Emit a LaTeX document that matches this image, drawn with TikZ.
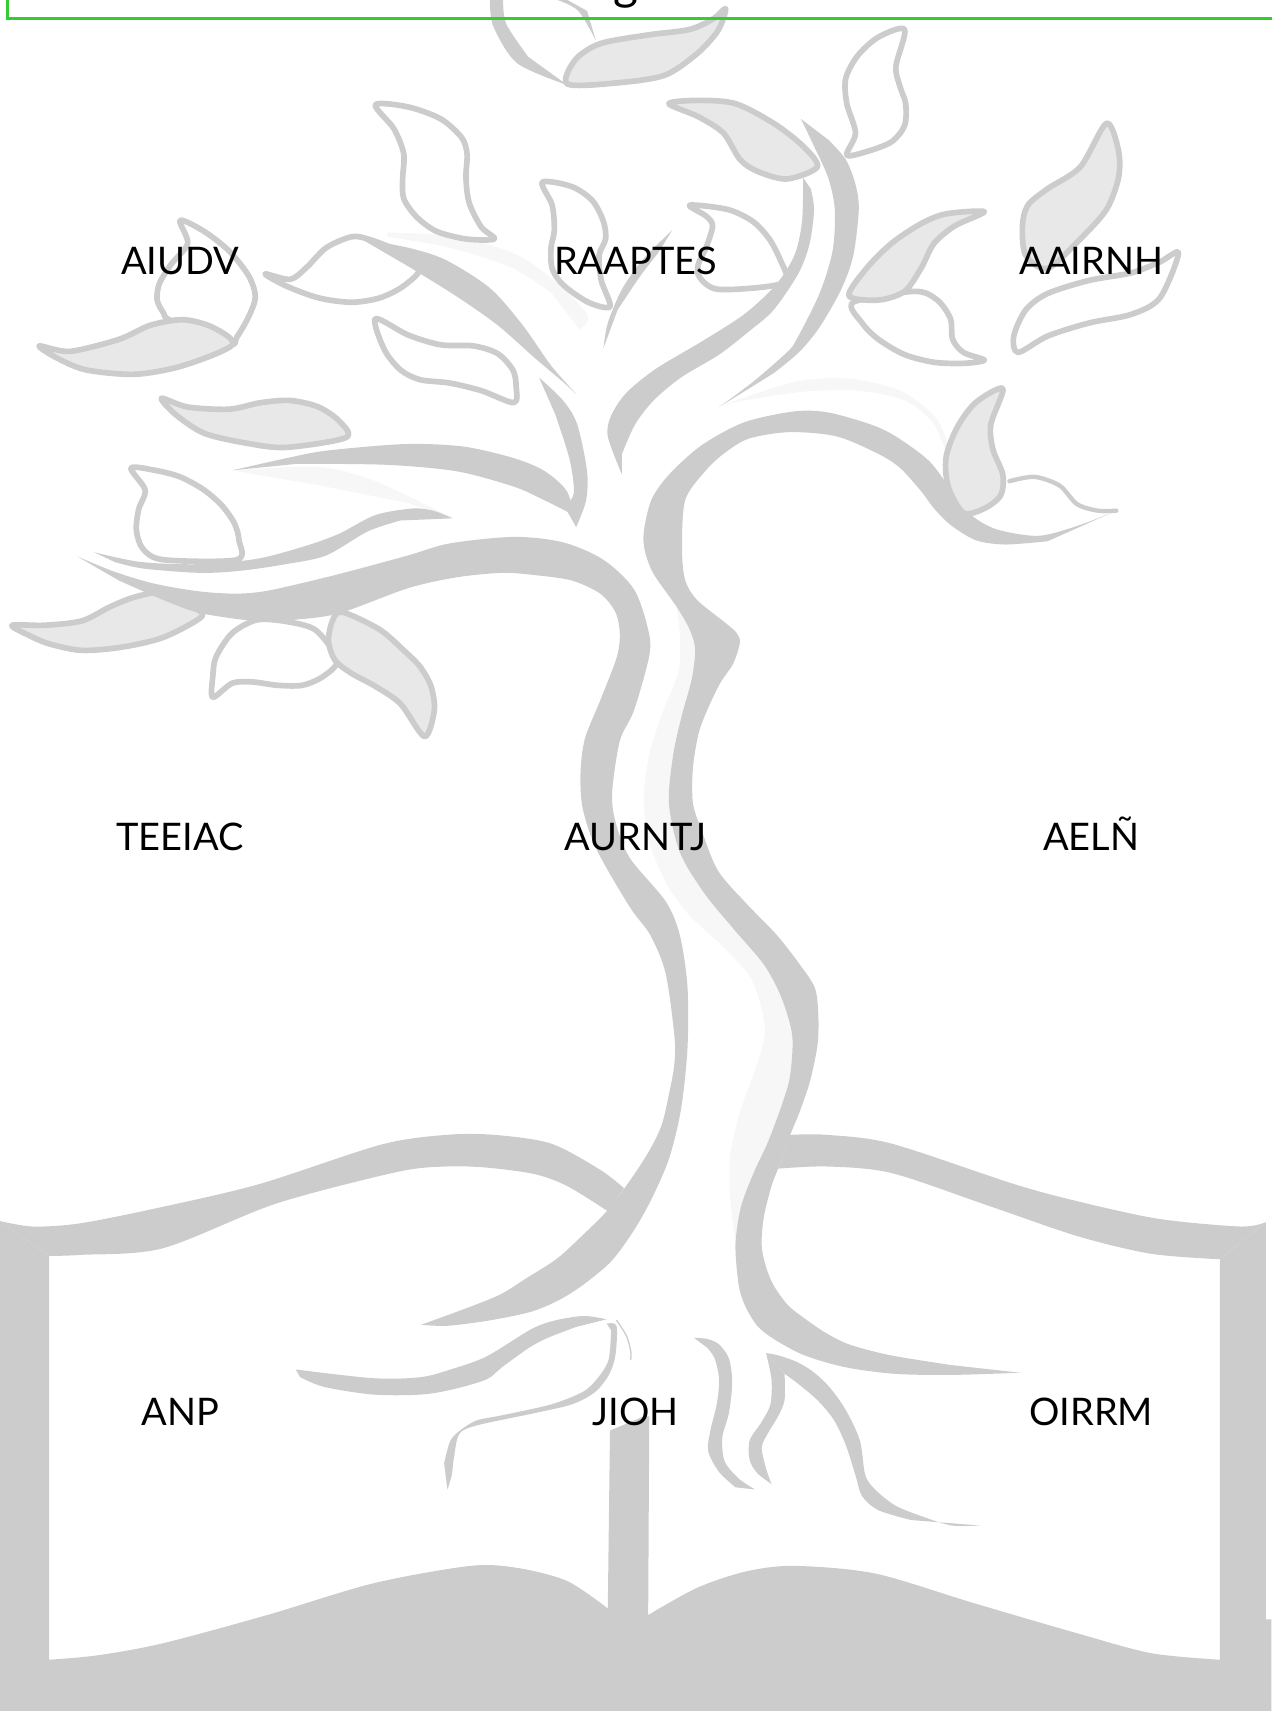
\documentclass[tikz,border=0pt]{standalone}
\usepackage{fontspec}
\setmainfont{Lato}
\usetikzlibrary{positioning}
\definecolor{treegray}{HTML}{CCCCCC}
\definecolor{leafgray}{HTML}{E8E8E8}
\definecolor{treeshine}{HTML}{F7F7F7}
\definecolor{framegreen}{HTML}{33CC33}
\tikzset{
  bark/.style = {fill=treegray},
  shine/.style = {fill=treeshine},
  leafline/.style = {draw=treegray, line width=2.6pt, line join=round, fill=white},
  leaflight/.style = {leafline, fill=leafgray},
  twig/.style = {draw=treegray, line width=2pt, line cap=round},
  word/.style = {font=\fontsize{17.4}{20}\selectfont, inner sep=0pt, text height=12.5pt, text depth=0pt},
  titleword/.style = {font=\fontsize{22}{26}\selectfont, inner sep=0pt, anchor=base},
  frame/.style = {draw=framegreen, line width=1.4pt},
}

\begin{document}
\begin{tikzpicture}[x=0.5pt,y=-0.5pt,node distance=263.75pt and 208.75pt,on grid]
      \useasboundingbox (0,0) rectangle (1165,1568);
      % highlights
      \fill[shine] plot[smooth] coordinates {(620,556) (623,581) (622,614) (608,651) (596,687) (590,728) (594,769) (611,810) (632,839) (666,871) (690,900) (701,945) (690,986) (678,1019) (669,1060) (669,1096) (673,1131) (674,1141)} -- plot[smooth] coordinates {(679,1106) (691,1074) (704,1046) (717,1011) (724,986) (726,949) (716,914) (700,884) (672,851) (645,818) (623,781) (613,736) (617,691) (625,655) (634,622) (637,595) (632,577)} -- cycle;
      \fill[shine] plot[smooth] coordinates {(663,371) (728,350) (778,347) (825,358) (856,381) (869,408) (877,450)} -- plot[smooth] coordinates {(871,427) (856,389) (829,367) (786,358) (736,359) (682,367)} -- cycle;
      \fill[shine] plot[smooth] coordinates {(355,213) (419,217) (475,234) (516,264) (539,290) (531,302)} -- plot[smooth] coordinates {(505,268) (468,245) (412,227) (355,217)} -- cycle;
      \fill[shine] plot[smooth] coordinates {(213,431) (292,428) (344,441) (415,475)} -- plot[smooth] coordinates {(374,461) (299,446)} -- cycle;

      % leaves
      \filldraw[leaflight] plot[smooth cycle] coordinates {(520,77) (527,55) (550,40) (594,32) (632,27) (654,17) (665,8) (658,28) (639,49) (609,69) (565,76)};
      \filldraw[leafline] plot[smooth cycle] coordinates {(344,96) (374,98) (404,109) (423,126) (428,141) (427,163) (430,186) (441,208) (453,219) (427,219) (400,212) (382,199) (370,182) (369,163) (370,141) (361,118)};
      \filldraw[leafline] plot[smooth cycle] coordinates {(497,167) (524,171) (543,184) (553,203) (555,219) (549,234) (551,257) (559,281) (539,277) (516,261) (506,246) (505,227) (508,211) (506,188)};
      \filldraw[leafline] plot[smooth cycle] coordinates {(632,188) (667,192) (690,203) (705,219) (715,238) (721,257) (700,263) (657,265) (641,254) (640,242) (647,227) (653,207) (647,198)};
      \filldraw[leaflight] plot[smooth cycle] coordinates {(613,95) (640,92) (674,95) (709,113) (736,134) (749,153) (721,164) (694,157) (678,146) (663,122) (640,107)};
      \filldraw[leafline] plot[smooth cycle] coordinates {(829,27) (821,61) (825,80) (830,95) (829,115) (817,130) (794,139) (776,142) (784,122) (776,95) (775,72) (786,51) (805,34)};
      \filldraw[leafline] plot[smooth cycle] coordinates {(782,277) (790,296) (805,311) (829,325) (856,332) (883,333) (902,330) (883,323) (873,311) (871,292) (859,275) (838,267)};
      \filldraw[leaflight] plot[smooth cycle] coordinates {(778,271) (794,246) (817,223) (844,205) (867,196) (902,194) (875,207) (856,223) (844,246) (829,267) (805,275)};
      \filldraw[leaflight] plot[smooth cycle] coordinates {(1014,113) (1025,138) (1025,163) (1014,192) (990,219) (960,246) (940,234) (937,207) (942,188) (960,173) (990,153)};
      \filldraw[leafline] plot[smooth cycle] coordinates {(929,308) (940,284) (960,269) (998,257) (1037,250) (1063,240) (1080,232) (1063,273) (1037,288) (998,296) (960,308) (933,323)};
      \filldraw[leafline] plot[smooth cycle] coordinates {(165,202) (187,212) (210,230) (228,253) (234,272) (228,290) (217,309) (210,315) (157,294) (150,287) (144,275) (146,260) (157,242) (172,223)};
      \filldraw[leaflight] plot[smooth cycle] coordinates {(36,317) (64,322) (109,311) (138,298) (168,293) (195,300) (213,316) (168,335) (124,343) (79,339) (52,328)};
      \filldraw[leaflight] plot[smooth cycle] coordinates {(148,365) (172,373) (210,375) (239,369) (266,367) (292,373) (311,386) (317,401) (262,410) (225,406) (187,397) (161,380)};
      \filldraw[leafline] plot[smooth cycle] coordinates {(344,292) (374,307) (404,316) (434,317) (456,324) (470,339) (473,354) (471,369) (441,358) (412,351) (385,348) (367,339) (352,320)};
      \filldraw[leafline] plot[smooth cycle] coordinates {(243,251) (266,256) (281,245) (299,227) (322,217) (337,219) (360,228) (385,245) (370,262) (348,273) (322,277) (292,273) (262,262)};
      \filldraw[leafline] plot[smooth cycle] coordinates {(120,429) (142,431) (165,437) (187,449) (204,464) (215,480) (219,495) (217,513) (150,513) (131,503) (125,486) (127,467) (133,449)};
      \filldraw[leaflight] plot[smooth cycle] coordinates {(11,573) (41,573) (75,569) (101,556) (124,547) (150,543) (176,556) (185,565) (150,584) (112,593) (75,596) (45,590) (26,582)};
      \filldraw[leafline] plot[smooth cycle] coordinates {(236,568) (213,580) (198,602) (195,620) (195,639) (213,626) (232,625) (254,628) (277,628) (296,620) (309,605) (290,578) (265,570)};
      \filldraw[leaflight] plot[smooth cycle] coordinates {(314,561) (305,568) (301,587) (307,605) (322,617) (344,629) (367,645) (389,675) (398,651) (395,629) (385,611) (370,596) (348,577)};
      \draw[twig] plot[smooth] coordinates {(925,441) (948,437) (971,445) (987,462) (1006,468) (1023,468)};

      % stems
      \fill[bark] plot[smooth] coordinates {(449,0) (452,24) (474,58) (520,78)} -- plot[smooth] coordinates {(484,52) (464,22) (461,0)} -- cycle;
      \fill[bark] plot[smooth] coordinates {(511,0) (530,10) (546,37)} -- plot[smooth] coordinates {(538,10) (520,0)} -- cycle;
      \fill[bark] plot[smooth] coordinates {(553,319) (557,296) (570,265) (589,238) (616,211)} -- plot[smooth] coordinates {(603,232) (586,254) (566,284)} -- cycle;

      % branches
      \fill[bark] plot[smooth] coordinates {(331,219) (374,227) (408,238) (449,264) (479,298) (505,335) (528,361)} -- plot[smooth] coordinates {(516,350) (490,328) (456,298) (419,272) (374,244)} -- cycle;
      \fill[bark] plot[smooth] coordinates {(213,431) (262,420) (299,413) (370,407) (423,409) (468,419) (498,431) (520,451) (528,483)} -- plot[smooth] coordinates {(520,469) (498,458) (471,446) (419,432) (355,426) (273,425)} -- cycle;
      \fill[bark] plot[smooth] coordinates {(528,483) (537,459) (538,432) (529,389) (516,367) (494,346)} -- plot[smooth] coordinates {(509,380) (522,421) (526,451) (520,462)} -- cycle;
      \fill[bark] plot[smooth] coordinates {(86,506) (129,515) (183,517) (236,512) (281,500) (311,489) (344,472) (378,466) (397,468) (415,475)} -- plot[smooth] coordinates {(367,477) (337,487) (299,509) (262,517) (221,523) (183,525) (131,521) (105,515)} -- cycle;
      \fill[bark] plot[smooth] coordinates {(570,435) (557,400) (560,381) (574,360) (601,338) (643,313) (682,288) (711,261) (728,234) (735,203) (736,163)} -- plot[smooth] coordinates {(743,173) (746,192) (742,223) (732,250) (709,284) (686,304) (659,325) (624,346) (599,367) (582,389) (570,416)} -- cycle;
      \fill[bark] plot[smooth] coordinates {(659,373) (690,350) (721,323) (730,311) (751,269) (763,230) (765,192) (759,163) (746,134) (734,109)} -- plot[smooth] coordinates {(759,128) (775,146) (784,169) (787,192) (782,234) (771,265) (751,300) (732,323) (709,342)} -- cycle;
      \fill[bark] plot[smooth] coordinates {(71,510) (105,524) (142,535) (183,542) (217,544) (247,541) (307,527) (374,509) (412,498) (471,492) (516,497) (553,513) (581,540) (594,577) (595,601) (581,651) (568,679) (561,726) (564,753) (577,786) (610,826) (623,857) (630,904) (630,961) (624,1017) (613,1062) (597,1099) (580,1129) (560,1156) (535,1177) (513,1191) (487,1202) (449,1210) (410,1215) (386,1214)} -- plot[smooth] coordinates {(419,1202) (457,1187) (483,1171) (511,1153) (537,1129) (556,1110) (573,1088) (593,1058) (606,1032) (613,1003) (618,975) (618,949) (610,892) (596,857) (577,831) (547,779) (534,741) (532,708) (536,677) (550,642) (565,603) (568,581) (564,561) (550,544) (524,532) (490,527) (460,525) (419,529) (374,539) (311,562) (269,568) (239,569) (215,567) (180,561) (150,550) (109,532)} -- cycle;
      \fill[bark] plot[smooth] coordinates {(1023,468) (990,481) (952,491) (913,485) (890,472) (875,454) (852,423) (821,400) (798,389) (759,378) (728,377) (682,387) (643,408) (613,435) (597,458) (590,487) (591,505) (599,526) (620,556) (632,577) (637,595) (634,622) (625,655) (617,691) (613,736) (623,781) (645,818) (672,851) (700,884) (716,914) (726,949) (724,986) (717,1011) (704,1046) (691,1074) (679,1106) (674,1141) (677,1178) (683,1197) (694,1215) (709,1227) (737,1242) (775,1253) (820,1259) (872,1260) (935,1258)} -- plot[smooth] coordinates {(872,1251) (816,1242) (778,1232) (756,1221) (737,1208) (722,1196) (709,1178) (702,1161) (698,1141) (700,1115) (707,1087) (713,1071) (725,1038) (732,1021) (742,992) (749,959) (750,933) (747,906) (733,884) (712,857) (684,828) (658,798) (643,761) (635,736) (635,704) (640,673) (648,651) (660,626) (672,608) (678,589) (675,580) (665,571) (639,550) (628,532) (625,503) (628,458) (647,431) (663,416) (686,402) (724,396) (767,400) (805,416) (825,429) (844,450) (856,466) (871,481) (894,495) (921,499) (960,496)} -- cycle;
      \filldraw[leaflight] plot[smooth cycle] coordinates {(919,356) (894,369) (877,392) (867,419) (869,446) (883,470) (902,466) (917,454) (919,435) (910,412) (908,389)};

      % book
      \fill[bark] plot[smooth] coordinates {(0,1119) (30,1124) (74,1121) (149,1106) (238,1085) (349,1049) (409,1040) (453,1040) (505,1048) (550,1072) (572,1089)} -- plot[smooth] coordinates {(557,1110) (520,1087) (490,1076) (446,1070) (409,1069) (364,1074) (253,1103) (149,1144) (74,1150) (45,1151)} -- cycle;
      \fill[bark] plot[smooth] coordinates {(724,1040) (758,1040) (817,1048) (929,1085) (988,1101) (1062,1117) (1137,1124) (1160,1120)} -- plot[smooth] coordinates {(1118,1154) (1055,1149) (988,1133) (906,1105) (817,1075) (758,1069) (713,1071)} -- cycle;
      \fill[bark] (0,1119) -- (45,1151) -- plot[smooth] coordinates {(45,1521) (89,1517) (149,1506) (245,1480) (342,1451) (431,1435) (475,1437) (520,1449) (557,1474)} -- (559,1311) -- (590,1298) -- (595,1298) -- plot[smooth] coordinates {(594,1480) (639,1455) (684,1440) (728,1435) (802,1442) (892,1469) (988,1497) (1055,1515) (1118,1521)} -- (1118,1154) -- (1160,1120) -- (1160,1484) -- (1165,1484) -- (1165,1568) -- (0,1568) -- cycle;

      % roots
      \fill[bark] plot[smooth] coordinates {(271,1255) (342,1263) (386,1262) (416,1254) (446,1243) (487,1218) (509,1210) (535,1206) (556,1209)} -- plot[smooth] coordinates {(528,1216) (502,1226) (485,1235) (460,1253) (446,1264) (416,1273) (386,1278) (342,1278) (297,1271) (275,1262)} -- cycle;
      \fill[bark] plot[smooth] coordinates {(556,1213) (565,1215) (564,1242) (558,1260) (545,1276) (524,1287) (490,1295) (438,1306) (421,1314) (416,1336) (414,1352) (410,1365)} -- plot[smooth] coordinates {(407,1341) (412,1322) (419,1313) (436,1302) (460,1297) (505,1287) (535,1275) (550,1260) (558,1245) (560,1219)} -- cycle;
      \draw[twig, line width=0.6pt] plot[smooth] coordinates {(565,1210) (574,1224) (578,1238) (578,1246)};
      \fill[bark] plot[smooth] coordinates {(636,1226) (648,1227) (659,1232) (668,1245) (671,1267) (668,1295) (662,1317) (664,1339) (677,1355) (692,1365)} -- plot[smooth] coordinates {(674,1363) (659,1349) (649,1330) (651,1311) (657,1286) (659,1264) (655,1245) (648,1235)} -- cycle;
      \fill[bark] plot[smooth] coordinates {(702,1240) (713,1242) (730,1248) (745,1257) (760,1271) (775,1292) (788,1320) (793,1352) (803,1366) (821,1380) (846,1390) (872,1398) (898,1398)} -- plot[smooth] coordinates {(835,1393) (805,1384) (790,1371) (784,1352) (775,1324) (764,1301) (749,1283) (730,1267) (719,1259)} -- cycle;
      \fill[bark] plot[smooth] coordinates {(702,1240) (707,1264) (706,1287) (698,1303) (687,1320) (687,1338) (694,1350) (707,1360)} -- plot[smooth] coordinates {(703,1349) (698,1327) (704,1313) (713,1298) (719,1283) (719,1259)} -- cycle;

      % frame and words
      \draw[frame] (7,-40) rectangle (1220,17);
      \node[titleword] (title) at (574,0) {g};
      \node[word] (a1) at (165,239) {AIUDV};
      \node[word, right=of a1] (a2) {RAAPTES};
      \node[word, right=of a2] (a3) {AAIRNH};
      \node[word, below=of a1] (b1) {TEEIAC};
      \node[word, right=of b1] (b2) {AURNTJ};
      \node[word, right=of b2] (b3) {AELÑ};
      \node[word, below=of b1] (c1) {ANP};
      \node[word, right=of c1] (c2) {JIOH};
      \node[word, right=of c2] (c3) {OIRRM};
\end{tikzpicture}
\end{document}
